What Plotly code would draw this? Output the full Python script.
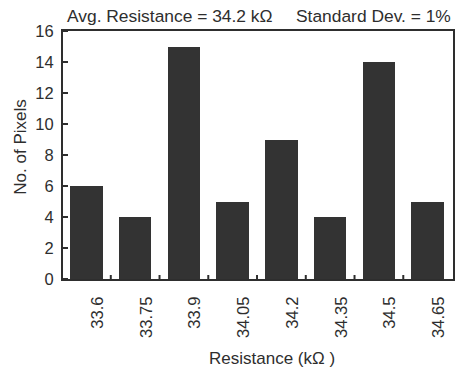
import numpy as np
import plotly.graph_objects as go

# Histogram of pixel resistances
bin_labels = ["33.6", "33.75", "33.9", "34.05", "34.2", "34.35", "34.5", "34.65"]
pixel_counts = [6, 4, 15, 5, 9, 4, 14, 5]
y_ticks = [0, 2, 4, 6, 8, 10, 12, 14, 16]

idx = np.arange(len(bin_labels))
ink = "#2e2e2e"
font_family = "Liberation Sans, Arial, sans-serif"

x_range = [-0.48, 7.52]
y_range = [0, 16]
frame_w = 2

fig = go.Figure()
fig.add_trace(go.Bar(
    x=idx, y=pixel_counts, width=0.67,
    marker=dict(color="#333333", line=dict(width=0)),
    showlegend=False,
))

fig.update_layout(
    width=460, height=368,
    margin=dict(l=63, r=5, t=31, b=89),
    paper_bgcolor="white", plot_bgcolor="white",
    font=dict(family=font_family, size=16, color=ink),
    bargap=0,
    xaxis=dict(
        range=x_range, tickmode="array",
        tickvals=idx + 0.23, ticktext=bin_labels, tickangle=-90,
        ticks="", ticklabelstandoff=9, showgrid=False, zeroline=False,
        showline=True, linecolor=ink, linewidth=frame_w, mirror=True,
        tickfont=dict(size=16.5, color=ink),
    ),
    yaxis=dict(
        range=y_range, tickmode="array", tickvals=y_ticks,
        ticks="", ticklabelstandoff=4, showgrid=False, zeroline=False,
        showline=True, linecolor=ink, linewidth=frame_w, mirror=True,
        tickfont=dict(size=16.5, color=ink),
    ),
)

# tick marks crossing the axes: between bars on the baseline, at each count on the left
tick_shapes = []
for v in idx[:-1] + 0.5:
    tick_shapes.append(dict(
        type="line", xref="x", yref="y", layer="above",
        x0=v, x1=v, ysizemode="pixel", yanchor=y_range[0], y0=-4, y1=4,
        line=dict(color=ink, width=2),
    ))
for v in y_ticks:
    tick_shapes.append(dict(
        type="line", xref="x", yref="y", layer="above",
        y0=v, y1=v, xsizemode="pixel", xanchor=x_range[0], x0=-4, x1=5,
        line=dict(color=ink, width=2),
    ))
fig.update_layout(shapes=tick_shapes)

annotations = [
    dict(text="Avg. Resistance = 34.2 kΩ", x=0.005, y=1.062,
         xanchor="left", yanchor="middle", font=dict(size=17.4)),
    dict(text="Standard Dev. = 1%", x=1.0, y=1.062,
         xanchor="right", yanchor="middle", font=dict(size=17.4)),
    dict(text="No. of Pixels", x=-0.11, y=0.53, textangle=-90,
         xanchor="center", yanchor="middle", font=dict(size=17)),
    dict(text="Resistance (kΩ )", x=0.536, y=-0.322,
         xanchor="center", yanchor="middle", font=dict(size=17)),
]
for a in annotations:
    fig.add_annotation(xref="paper", yref="paper", showarrow=False,
                       font_family=font_family, font_color=ink, **a)

fig.write_html("out.html")
